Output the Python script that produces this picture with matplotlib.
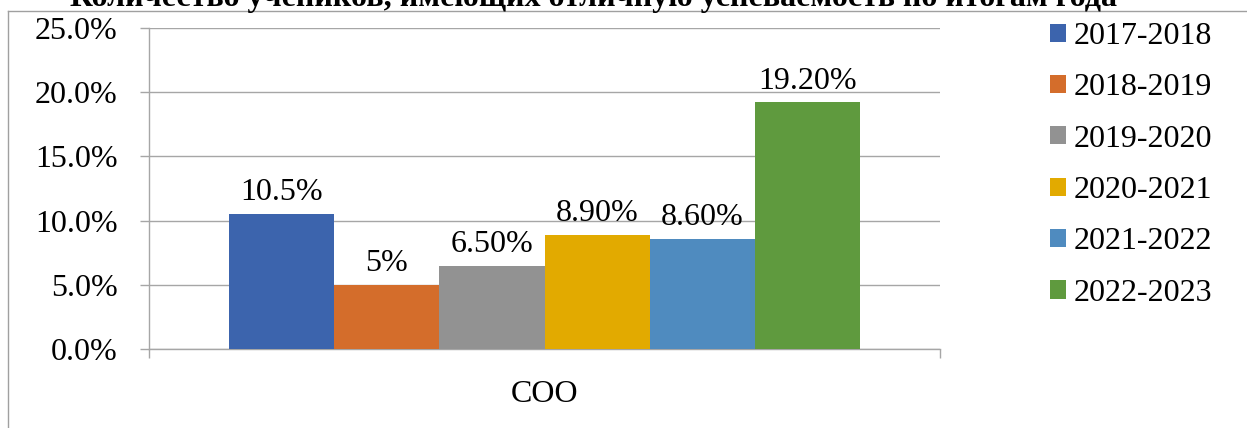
import matplotlib
matplotlib.use("Agg")
import matplotlib.pyplot as plt
from matplotlib.lines import Line2D

plt.rcParams['font.family'] = ['Liberation Serif', 'DejaVu Serif']

title = "Количество учеников, имеющих отличную успеваемость по итогам года"
category = "СОО"
years = ["2017-2018", "2018-2019", "2019-2020", "2020-2021", "2021-2022", "2022-2023"]
values = [10.5, 5, 6.5, 8.9, 8.6, 19.2]
value_labels = ["10.5%", "5%", "6.50%", "8.90%", "8.60%", "19.20%"]
colors = ["#3C64AD", "#D46D2B", "#929292", "#E2AA00", "#4F8BBF", "#5F9A3E"]
yticks = [0, 5, 10, 15, 20, 25]

W, H = 1247, 428
fig = plt.figure(figsize=(W / 100, H / 100), dpi=100)
ax = fig.add_axes([149 / W, 1 - 349 / H, (940 - 149) / W, (349 - 28) / H])

grid_col = "#A6A6A6"
fs = 23

group = 0.797
w = group / len(values)
for i, (v, c, yr, lab) in enumerate(zip(values, colors, years, value_labels)):
    x = (i - (len(values) - 1) / 2) * w
    bars = ax.bar(x, v, width=w, color=c, label=yr, zorder=3)
    ax.bar_label(bars, labels=[lab], padding=5, fontsize=fs)

ax.set_xlim(-0.5, 0.5)
ax.set_ylim(0, 25)
ax.set_yticks(yticks)
ax.set_yticklabels([f"{t:.1f}%" for t in yticks], fontsize=fs)
ax.yaxis.grid(True, color=grid_col, linewidth=1.0, zorder=0)
ax.tick_params(axis='y', length=6.5, width=1.0, color=grid_col, pad=16)

ax.set_xticks([-0.5, 0.5])
ax.set_xticklabels(["", ""])
ax.set_xticks([0], minor=True)
ax.set_xticklabels([category], minor=True, fontsize=fs)
ax.tick_params(axis='x', which='major', length=6.5, width=1.0, color=grid_col)
ax.tick_params(axis='x', which='minor', length=0, pad=22)

for s in ["top", "right"]:
    ax.spines[s].set_visible(False)
for s in ["left", "bottom"]:
    ax.spines[s].set_color(grid_col)
    ax.spines[s].set_linewidth(1.0)

leg = ax.legend(loc="upper left", bbox_to_anchor=(1050 / W, 1 - 22 / H),
                bbox_transform=fig.transFigure, frameon=False, fontsize=fs,
                handlelength=0.5, handleheight=0.5, handletextpad=0.25,
                labelspacing=0.7, borderpad=0, borderaxespad=0)

# outer frame (only left and top edges are visible)
fx, fy = 8 / W, 1 - 10.5 / H
fig.add_artist(Line2D([fx, fx], [0, fy], transform=fig.transFigure, color="#A0A0A0", lw=1.0))
fig.add_artist(Line2D([fx, 1], [fy, fy], transform=fig.transFigure, color="#A0A0A0", lw=1.0))

fig.text(594 / W, 1 - 6 / H, title, ha="center", va="baseline",
         fontsize=fs, fontweight="bold")

fig.savefig("out.png", dpi=100)
